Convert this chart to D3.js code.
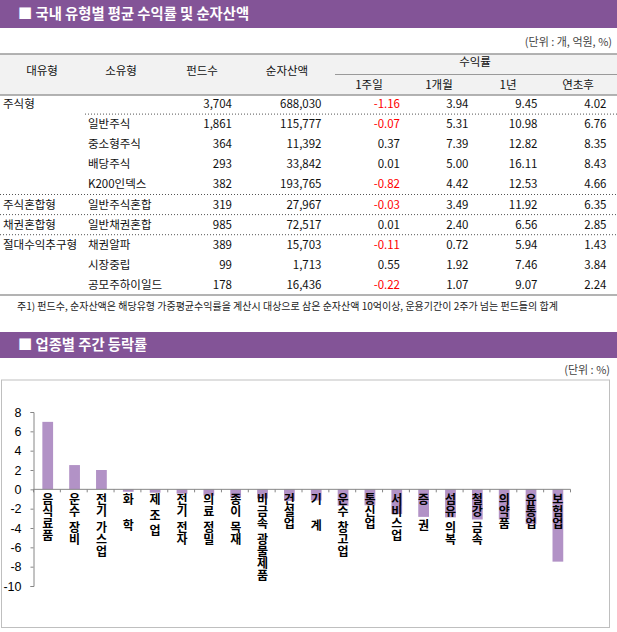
<!DOCTYPE html>
<html><head><meta charset="utf-8">
<script src="https://cdn.jsdelivr.net/npm/d3@7"></script>
<style>
html,body{margin:0;padding:0;background:#fff;}
svg{display:block;font-family:"Noto Sans CJK KR","Noto Sans",sans-serif;}
.vt{writing-mode:vertical-rl;text-orientation:upright;}
</style></head>
<body>
<svg id="c" width="617" height="632"></svg>
<script>
// ---- table data ----
const mainTypes = ["주식형","","","","","주식혼합형","채권혼합형","절대수익추구형","",""];
const subTypes = ["","일반주식","중소형주식","배당주식","K200인덱스","일반주식혼합","일반채권혼합","채권알파","시장중립","공모주하이일드"];
const fundCounts = [3704,1861,364,293,382,319,985,389,99,178];
const netAssets = [688030,115777,11392,33842,193765,27967,72517,15703,1713,16436];
const ret1w = [-1.16,-0.07,0.37,0.01,-0.82,-0.03,0.01,-0.11,0.55,-0.22];
const ret1m = [3.94,5.31,7.39,5.00,4.42,3.49,2.40,0.72,1.92,1.07];
const ret1y = [9.45,10.98,12.82,16.11,12.53,11.92,6.56,5.94,7.46,9.07];
const retYtd = [4.02,6.76,8.35,8.43,4.66,6.35,2.85,1.43,3.84,2.24];
const headers = ["대유형","소유형","펀드수","순자산액"];
const subHeaders = ["1주일","1개월","1년","연초후"];

// ---- chart data ----
const sectors = ["음식료품","운수 장비","전기 가스업","화    학","제 조 업","전기 전자","의료 정밀","종이 목재","비금속 광물제품","건설업","기    계","운수 창고업","통신업","서비스업","증    권","섬유 의복","철강 금속","의약품","유통업","보험업"];
const weekly = [6.98,2.51,2.0,-0.25,-0.35,-0.45,-0.65,-0.85,-0.95,-1.2,-1.15,-1.7,-1.65,-2.55,-2.85,-2.9,-3.12,-3.12,-3.6,-7.48];
const yTicks = [8,6,4,2,0,-2,-4,-6,-8,-10];

const svg = d3.select("#c");
const PURPLE = "#835497";
const loc = d3.formatLocale({decimal:".",thousands:",",grouping:[3],currency:["",""],minus:"-"});
const fInt = loc.format(","), fDec = loc.format(".2f");

function titleBar(y0, h, text){
  svg.append("rect").attr("x",0).attr("y",y0).attr("width",617).attr("height",h).attr("fill",PURPLE);
  svg.append("text").attr("x",18).attr("y",y0+h/2).attr("dy","0.36em")
    .attr("fill","#fff").attr("font-size",14.3).attr("font-weight","bold").text(text);
}

// ===== Section 1: table =====
titleBar(0, 28, "■ 국내 유형별 평균 수익률 및 순자산액");
svg.append("text").attr("x",612).attr("y",42).attr("dy","0.35em").attr("text-anchor","end")
  .attr("font-size",11).attr("fill","#444").text("(단위 : 개, 억원, %)");

// header
svg.append("rect").attr("x",0).attr("y",54).attr("width",617).attr("height",41).attr("fill","#f2f2f2");
svg.append("line").attr("x1",0).attr("x2",617).attr("y1",54).attr("y2",54).attr("stroke","#9a9a9a").attr("stroke-width",1.5);
svg.append("line").attr("x1",0).attr("x2",617).attr("y1",95).attr("y2",95).attr("stroke","#9a9a9a").attr("stroke-width",1.5);
svg.append("line").attr("x1",335).attr("x2",617).attr("y1",74.5).attr("y2",74.5).attr("stroke","#9a9a9a").attr("stroke-width",1);
const hdrX = [42,121,202,287];
svg.selectAll("text.h").data(headers).join("text").attr("class","h")
  .attr("x",(d,i)=>hdrX[i]).attr("y",71).attr("dy","0.35em").attr("text-anchor","middle")
  .attr("font-size",11.5).attr("fill","#111").text(d=>d);
svg.append("text").attr("x",475).attr("y",62).attr("dy","0.35em").attr("text-anchor","middle")
  .attr("font-size",11.5).attr("fill","#111").text("수익률");
const subX = [369,439,508,578];
svg.selectAll("text.sh").data(subHeaders).join("text").attr("class","sh")
  .attr("x",(d,i)=>subX[i]).attr("y",85).attr("dy","0.35em").attr("text-anchor","middle")
  .attr("font-size",11.5).attr("fill","#111").text(d=>d);

// rows
const rowY = d3.scaleBand().domain(d3.range(mainTypes.length)).range([94,295]);
const rowC = i => rowY(i) + rowY.bandwidth()/2;
const rows = svg.append("g").selectAll("g").data(d3.range(mainTypes.length)).join("g")
  .attr("transform", i => `translate(0,${rowC(i)})`);
const tx = (g, x, anchor, fn, colorFn) => g.append("text").attr("x",x).attr("dy","0.35em")
  .attr("text-anchor",anchor).attr("font-size",11.5).attr("fill",colorFn||"#111").text(fn);
tx(rows, 3, "start", i=>mainTypes[i]);
tx(rows, 88, "start", i=>subTypes[i]);
tx(rows, 232, "end", i=>fInt(fundCounts[i]));
tx(rows, 321.5, "end", i=>fInt(netAssets[i]));
tx(rows, 400, "end", i=>fDec(ret1w[i]), i=> ret1w[i]<0 ? "#ff0000" : "#111");
tx(rows, 468.5, "end", i=>fDec(ret1m[i]));
tx(rows, 537.5, "end", i=>fDec(ret1y[i]));
tx(rows, 606.5, "end", i=>fDec(retYtd[i]));

// dotted separators
const seps = [{after:0,x1:85},{after:4,x1:0},{after:5,x1:0},{after:6,x1:0}];
svg.selectAll("line.sep").data(seps).join("line").attr("class","sep")
  .attr("x1",d=>d.x1).attr("x2",617)
  .attr("y1",d=>rowY(d.after)+rowY.bandwidth()).attr("y2",d=>rowY(d.after)+rowY.bandwidth())
  .attr("stroke","#555").attr("stroke-width",1).attr("stroke-dasharray","1,2");
svg.append("line").attr("x1",0).attr("x2",617).attr("y1",295).attr("y2",295).attr("stroke","#9a9a9a").attr("stroke-width",1.5);

svg.append("text").attr("x",17).attr("y",306).attr("dy","0.35em").attr("font-size",10).attr("fill","#222")
  .text("주1) 펀드수, 순자산액은 해당유형 가중평균수익률을 계산시 대상으로 삼은 순자산액 10억이상, 운용기간이 2주가 넘는 펀드들의 합계");

// ===== Section 2: bar chart =====
titleBar(332, 26, "■ 업종별 주간 등락률");
svg.append("text").attr("x",610).attr("y",370).attr("dy","0.35em").attr("text-anchor","end")
  .attr("font-size",11).attr("fill","#444").text("(단위 : %)");
svg.append("rect").attr("x",1.5).attr("y",380).attr("width",608).attr("height",247.5)
  .attr("fill","#fff").attr("stroke","#bfbfbf").attr("stroke-width",1);

const x = d3.scaleBand().domain(sectors).range([33.5,570.5]).padding(0);
const y = d3.scaleLinear().domain([-10,8]).range([586,412]);

// y axis
const yAxis = d3.axisLeft(y).tickValues(yTicks).tickSize(3).tickPadding(9).tickFormat(d3.format("d"));
const gy = svg.append("g").attr("transform","translate(33.5,0)").call(yAxis);
gy.select(".domain").attr("stroke","#868686");
gy.selectAll(".tick line").attr("stroke","#868686");
gy.selectAll(".tick text").attr("font-family","'Liberation Sans',Arial,sans-serif").attr("font-size",12.5).attr("fill","#000")
  .text(d => d<0 ? "-"+Math.abs(d) : d);

// bars
const bw = x.bandwidth()*0.4;
svg.append("g").selectAll("rect").data(sectors).join("rect")
  .attr("x",(d)=>x(d)+x.bandwidth()/2-bw/2+0.8)
  .attr("width",bw)
  .attr("y",(d,i)=>y(Math.max(0,weekly[i])))
  .attr("height",(d,i)=>Math.abs(y(weekly[i])-y(0)))
  .attr("fill","#b292c6");

// x axis line with boundary ticks
svg.append("line").attr("x1",33.5).attr("x2",570.5).attr("y1",y(0)).attr("y2",y(0)).attr("stroke","#868686");
const bounds = sectors.map(d=>x(d)).concat([x.range()[1]]);
svg.append("g").selectAll("line").data(bounds).join("line")
  .attr("x1",d=>d).attr("x2",d=>d).attr("y1",y(0)).attr("y2",y(0)+3).attr("stroke","#868686");

// vertical category labels: each word is one vertical text
const FS = 12, SP = 3.5;
const lg = svg.append("g").attr("font-size",FS).attr("font-weight","bold").attr("fill","#000");
sectors.forEach((s)=>{
  const cx = x(s)+x.bandwidth()/2+0.8;
  let yy = y(0) + 4.5;
  const parts = s.match(/\S+|\s+/g);
  parts.forEach(p=>{
    if (/^\s+$/.test(p)) { yy += SP*p.length; return; }
    lg.append("text").attr("class","vt").attr("x",cx).attr("y",yy).text(p);
    yy += FS*Array.from(p).length;
  });
});
</script>
</body></html>
